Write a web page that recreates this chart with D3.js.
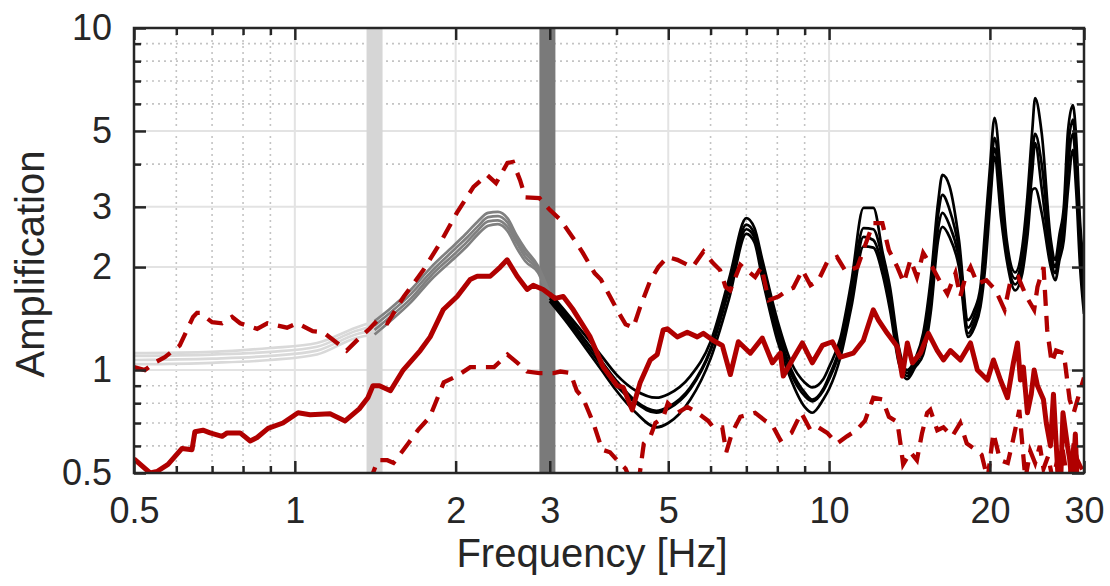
<!DOCTYPE html>
<html>
<head>
<meta charset="utf-8">
<script src="https://cdn.jsdelivr.net/npm/d3@7"></script>
<style>
  body { margin: 0; background: #fff; }
  text { font-family: "Liberation Sans", Arial, sans-serif; fill: #262626; }
</style>
</head>
<body>
<div id="chart"></div>
<script>
// axis ticks
var xTicks = [0.5, 1, 2, 3, 5, 10, 20, 30]
var yTicks = [0.5, 1, 2, 3, 5, 10]
var xGridMajor = [1, 2, 3, 5, 10, 20]
var xGridMinor = [0.6, 0.7, 0.8, 0.9, 4, 6, 7, 8, 9]
var yGridMajor = [1, 2, 3, 5]
var yGridMinor = [0.6, 0.7, 0.8, 0.9, 4, 6, 7, 8, 9]

// the two marked frequencies (vertical bands)
var bandFreqs = [1.41, 2.97]
// model curves change colour at these frequencies
var segEdges = [0.5, 1.41, 3.0, 30]

// model transfer functions, 4 curves on one frequency grid
var modelFreq = [0.5, 0.7, 0.9, 1.1, 1.3, 1.41, 1.5, 1.65, 1.8, 2.0, 2.1, 2.2, 2.3, 2.4, 2.5, 2.6, 2.7, 2.85, 3.0,
  3.25, 3.5, 3.75, 4.0, 4.35, 4.75, 5.0, 5.5, 6.0, 6.5, 7.0, 7.25, 7.5, 8.0, 8.5, 9.0, 9.3, 9.75, 10.0, 10.5,
  11.0, 11.6, 12.1, 12.6, 13.0, 13.5, 14.0, 14.5, 15.0, 15.5, 16.0, 16.3, 16.8, 17.5, 18.2, 18.7, 19.2, 19.6,
  20.0, 20.4, 21.0, 21.5, 22.3, 23.0, 23.5, 24.0, 24.3, 25.0, 26.0, 26.5, 27.0, 27.5, 28.0, 28.6, 29.0, 29.5, 30.0]
var modelA = [1.12, 1.13, 1.16, 1.20, 1.33, 1.39, 1.50, 1.72, 2.00, 2.34, 2.52, 2.72, 2.88, 2.90, 2.78, 2.48, 2.26, 2.02, 1.68,
  1.45, 1.26, 1.10, 0.97, 0.87, 0.83, 0.85, 0.96, 1.21, 1.85, 2.78, 2.60, 2.10, 1.40, 1.05, 0.92, 0.89, 0.94, 1.02, 1.24,
  1.80, 2.98, 2.98, 2.20, 1.75, 1.17, 1.00, 1.08, 1.28, 1.85, 3.10, 3.72, 3.45, 2.40, 1.40, 1.50, 1.75, 2.60,
  3.90, 5.46, 3.60, 2.40, 1.93, 2.30, 3.20, 5.00, 6.24, 4.93, 2.40, 2.10, 2.50, 3.00, 5.00, 5.95, 4.80, 2.70, 2.00]
var modelB = [1.10, 1.11, 1.13, 1.17, 1.30, 1.35, 1.46, 1.67, 1.94, 2.27, 2.44, 2.63, 2.80, 2.82, 2.70, 2.42, 2.20, 1.99, 1.65,
  1.42, 1.22, 1.06, 0.93, 0.81, 0.76, 0.78, 0.89, 1.15, 1.76, 2.66, 2.50, 2.02, 1.34, 1.00, 0.86, 0.82, 0.88, 0.96, 1.18,
  1.70, 2.60, 2.58, 2.10, 1.65, 1.13, 0.98, 1.06, 1.23, 1.72, 2.85, 3.25, 2.95, 2.25, 1.33, 1.44, 1.68, 2.40,
  3.50, 4.77, 3.30, 2.28, 1.85, 2.15, 2.90, 4.30, 4.90, 4.00, 2.25, 2.00, 2.35, 2.80, 4.40, 5.40, 4.20, 2.50, 1.85]
var modelC = [1.07, 1.08, 1.10, 1.14, 1.27, 1.31, 1.42, 1.62, 1.89, 2.20, 2.37, 2.56, 2.72, 2.74, 2.62, 2.36, 2.14, 1.96, 1.62,
  1.39, 1.19, 1.03, 0.90, 0.80, 0.75, 0.77, 0.88, 1.14, 1.72, 2.58, 2.44, 1.95, 1.28, 0.97, 0.84, 0.81, 0.87, 0.94, 1.15,
  1.62, 2.45, 2.40, 2.00, 1.58, 1.09, 0.96, 1.04, 1.17, 1.60, 2.60, 2.88, 2.65, 2.12, 1.28, 1.38, 1.60, 2.20,
  3.20, 4.45, 3.00, 2.18, 1.78, 2.02, 2.65, 3.80, 4.61, 3.40, 2.12, 1.92, 2.22, 2.60, 3.90, 4.90, 3.80, 2.30, 1.65]
var modelD = [1.04, 1.05, 1.07, 1.11, 1.24, 1.27, 1.38, 1.58, 1.84, 2.14, 2.30, 2.49, 2.64, 2.67, 2.55, 2.28, 2.08, 1.93, 1.59,
  1.36, 1.16, 1.00, 0.87, 0.75, 0.68, 0.70, 0.82, 1.08, 1.62, 2.50, 2.36, 1.85, 1.22, 0.93, 0.78, 0.75, 0.82, 0.88, 1.09,
  1.52, 2.30, 2.28, 1.90, 1.50, 1.05, 0.94, 1.02, 1.11, 1.48, 2.40, 2.62, 2.45, 2.00, 1.25, 1.33, 1.53, 2.00,
  3.00, 4.20, 2.75, 2.10, 1.71, 1.92, 2.45, 3.36, 3.40, 2.88, 2.00, 1.83, 2.10, 2.40, 3.36, 4.40, 3.36, 2.00, 1.46]

// observed amplification: median
var medianFreq = [0.5, 0.536, 0.552, 0.579, 0.615, 0.642, 0.65, 0.673, 0.694, 0.731, 0.747, 0.79, 0.825, 0.85, 0.891, 0.95,
  1.014, 1.068, 1.164, 1.242, 1.32, 1.37, 1.40, 1.44, 1.51, 1.595, 1.717, 1.792, 1.895, 2.013, 2.129, 2.194, 2.321,
  2.424, 2.497, 2.607, 2.722, 2.794, 2.916, 3.07, 3.18, 3.32, 3.571, 3.777, 4.012, 4.117, 4.281, 4.431, 4.626, 4.768,
  4.892, 4.978, 5.197, 5.426, 5.666, 5.815, 6.071, 6.311, 6.534, 6.763, 7.122, 7.499, 7.83, 8.104, 8.21, 8.535, 8.91,
  9.304, 9.714, 10.14, 10.5, 11.1, 11.59, 12.1, 12.37, 12.85, 13.42, 13.71, 14.01, 14.32, 14.82, 15.34, 15.94, 16.37,
  16.87, 17.61, 18.39, 18.95, 19.79, 20.31, 20.93, 21.57, 22.13, 22.52, 22.81, 23.1, 23.51, 23.9, 24.2, 24.55, 25.19,
  25.5, 25.96, 26.3, 26.52, 26.8, 27.1, 27.4, 27.94, 28.2, 28.55, 28.9, 29.2, 29.55, 30]
var medianAmp = [0.55, 0.50, 0.505, 0.53, 0.59, 0.585, 0.66, 0.667, 0.655, 0.64, 0.655, 0.655, 0.62, 0.635, 0.675, 0.70,
  0.75, 0.74, 0.745, 0.71, 0.77, 0.83, 0.90, 0.90, 0.87, 1.0, 1.14, 1.25, 1.50, 1.64, 1.84, 1.88, 1.88,
  2.0, 2.1, 1.88, 1.72, 1.77, 1.72, 1.62, 1.64, 1.50, 1.25, 1.02, 0.90, 0.89, 0.765, 0.92, 1.07, 1.11,
  1.31, 1.32, 1.25, 1.29, 1.25, 1.28, 1.22, 1.18, 0.97, 1.21, 1.12, 1.24, 1.05, 1.12, 0.96, 1.07, 1.20,
  1.05, 1.18, 1.21, 1.09, 1.12, 1.22, 1.50, 1.40, 1.28, 1.17, 0.96, 1.20, 1.05, 1.12, 1.28, 1.14, 1.07,
  1.14, 1.07, 1.20, 1.00, 0.935, 1.07, 0.935, 0.83, 1.05, 1.20, 0.935, 1.02, 0.75, 0.85, 1.00, 0.90, 0.82,
  0.70, 0.60, 0.85, 0.667, 0.50, 0.45, 0.75, 0.60, 0.55, 0.45, 0.65, 0.42, 0.40, 0.40]

// upper bound (dashed)
var upperFreq = [0.5, 0.524, 0.546, 0.571, 0.609, 0.645, 0.656, 0.664, 0.70, 0.731, 0.763, 0.79, 0.85, 0.888, 0.926, 0.967,
  1.01, 1.08, 1.13, 1.20, 1.25, 1.32, 1.38, 1.43, 1.49, 1.60, 1.74, 1.87, 2.01, 2.16, 2.29, 2.38, 2.50, 2.56, 2.64,
  2.70, 2.87, 3.0, 3.14, 3.22, 3.37, 3.46, 3.64, 3.74, 3.89, 4.01, 4.16, 4.30, 4.43, 4.63, 4.79, 4.98, 5.20, 5.43,
  5.55, 5.82, 6.07, 6.25, 6.40, 6.53, 6.82, 7.27, 7.47, 7.71, 8.04, 8.35, 8.57, 8.91, 9.23, 9.55, 9.92, 10.35,
  10.75, 11.30, 11.72, 12.10, 12.58, 12.94, 13.42, 13.8, 14.2, 14.6, 15.0, 15.6, 16.2, 16.65, 17.24, 17.6, 18.0,
  18.4, 18.95, 19.7, 20.5, 21.3, 21.8, 22.6, 23.4, 24.2, 24.55, 25.2, 25.6, 26.1, 26.6, 27.5, 28.2, 28.7, 29.5, 30]
var upperAmp = [1.02, 1.00, 1.05, 1.09, 1.18, 1.43, 1.47, 1.47, 1.38, 1.37, 1.43, 1.37, 1.32, 1.37, 1.35, 1.33,
  1.37, 1.30, 1.29, 1.20, 1.14, 1.24, 1.32, 1.40, 1.37, 1.64, 1.96, 2.35, 2.88, 3.43, 3.72, 3.52, 4.03, 4.06, 3.59,
  3.20, 3.18, 2.94, 2.75, 2.60, 2.35, 2.20, 1.92, 1.84, 1.64, 1.50, 1.36, 1.33, 1.53, 1.83, 2.00, 2.14, 2.10, 2.03,
  2.00, 2.22, 2.05, 1.96, 1.75, 1.71, 2.03, 1.87, 2.00, 1.60, 1.64, 1.71, 1.74, 1.96, 1.77, 1.83, 2.07, 2.14,
  1.94, 2.00, 2.35, 2.69, 2.69, 2.24, 2.00, 1.80, 2.10, 1.87, 2.20, 2.00, 1.79, 1.67, 1.92, 1.64, 1.87,
  2.00, 1.79, 1.83, 1.71, 1.50, 1.79, 1.87, 1.64, 1.50, 1.75, 2.00, 1.31, 1.05, 1.14, 1.12, 0.82, 0.75, 0.87, 0.95]

// lower bound (dashed)
var lowerFreq = [1.38, 1.43, 1.49, 1.53, 1.63, 1.70, 1.79, 1.90, 2.01, 2.13, 2.25, 2.36, 2.50, 2.61, 2.72, 2.87, 3.05,
  3.14, 3.28, 3.37, 3.46, 3.62, 3.76, 3.89, 4.01, 4.16, 4.28, 4.40, 4.50, 4.63, 4.73, 4.89, 4.99, 5.2, 5.43, 5.67,
  5.94, 6.07, 6.31, 6.42, 6.58, 6.82, 7.27, 7.6, 7.83, 8.10, 8.5, 8.87, 9.23, 9.55, 9.92, 10.35, 10.8, 11.25, 11.67,
  12.10, 12.58, 12.94, 13.42, 13.6, 13.76, 14.2, 14.6, 14.93, 15.26, 15.47, 15.94, 16.37, 17.0, 17.6, 18.1, 18.8,
  19.3, 19.8, 20.3, 20.9, 21.6, 22.1, 22.7, 23.3, 23.8, 24.3, 24.8, 25.2, 25.7, 26.2, 26.8, 27.3, 27.8, 28.2, 28.7, 29.1, 29.5, 30]
var lowerAmp = [0.47, 0.545, 0.545, 0.535, 0.61, 0.667, 0.73, 0.92, 0.96, 1.02, 1.02, 1.02, 1.11, 1.05, 0.99, 0.98, 0.98,
  0.99, 0.98, 0.87, 0.83, 0.70, 0.585, 0.575, 0.545, 0.515, 0.46, 0.47, 0.61, 0.64, 0.70, 0.725, 0.80, 0.75, 0.78, 0.75,
  0.71, 0.68, 0.68, 0.575, 0.655, 0.73, 0.75, 0.71, 0.69, 0.625, 0.655, 0.75, 0.667, 0.68, 0.655, 0.61, 0.64, 0.667, 0.71,
  0.83, 0.82, 0.73, 0.705, 0.61, 0.53, 0.575, 0.545, 0.655, 0.75, 0.765, 0.667, 0.68, 0.64, 0.70, 0.61, 0.585,
  0.565, 0.48, 0.655, 0.545, 0.535, 0.625, 0.765, 0.48, 0.58, 0.535, 0.60, 0.515, 0.56, 0.48, 0.55, 0.60, 0.50, 0.48, 0.61, 0.55, 0.525, 0.50]

var figw = 1110, figh = 586
// plot box in pixels (window.top is reserved, so no "top" here)
var plotL = 134, plotR = 1084, plotT = 28, plotB = 473
var red = "#b00000"

var svg = d3.select("#chart").append("svg")
  .attr("width", figw)
  .attr("height", figh)

var x = d3.scaleLog().domain([0.5, 30]).range([plotL, plotR])
var y = d3.scaleLog().domain([0.5, 10]).range([plotB, plotT])

svg.append("clipPath").attr("id", "clip")
  .append("rect")
    .attr("x", plotL).attr("y", plotT)
    .attr("width", plotR - plotL).attr("height", plotB - plotT)

// grid
var grid = svg.append("g")
grid.selectAll(".xmin").data(xGridMinor).enter().append("line")
  .attr("x1", d => x(d)).attr("x2", d => x(d)).attr("y1", plotT).attr("y2", plotB)
  .attr("stroke", "#c4c4c4").attr("stroke-width", 1.6).attr("stroke-dasharray", "2,4")
grid.selectAll(".ymin").data(yGridMinor).enter().append("line")
  .attr("y1", d => y(d)).attr("y2", d => y(d)).attr("x1", plotL).attr("x2", plotR)
  .attr("stroke", "#c4c4c4").attr("stroke-width", 1.6).attr("stroke-dasharray", "2,4")
grid.selectAll(".xmaj").data(xGridMajor).enter().append("line")
  .attr("x1", d => x(d)).attr("x2", d => x(d)).attr("y1", plotT).attr("y2", plotB)
  .attr("stroke", "#e3e3e3").attr("stroke-width", 2)
grid.selectAll(".ymaj").data(yGridMajor).enter().append("line")
  .attr("y1", d => y(d)).attr("y2", d => y(d)).attr("x1", plotL).attr("x2", plotR)
  .attr("stroke", "#e3e3e3").attr("stroke-width", 2)

// bands
var bandColors = ["#d6d6d6", "#7a7a7a"]
svg.append("g").selectAll("line").data(bandFreqs).enter().append("line")
  .attr("x1", d => x(d)).attr("x2", d => x(d)).attr("y1", plotT).attr("y2", plotB)
  .attr("stroke", (d, i) => bandColors[i]).attr("stroke-width", 16)

var plot = svg.append("g").attr("clip-path", "url(#clip)")

// model curves
var segColors = ["#d9d9d9", "#808080", "#000000"]
var models = [modelA, modelB, modelC, modelD]
var mline = d3.line().x(d => x(d[0])).y(d => y(d[1])).curve(d3.curveMonotoneX)
segColors.forEach(function(col, s) {
  models.forEach(function(amp) {
    var pts = []
    modelFreq.forEach(function(f, i) {
      if (f >= segEdges[s] && f <= segEdges[s + 1]) pts.push([f, amp[i]])
    })
    plot.append("path").datum(pts)
      .attr("d", mline)
      .attr("fill", "none").attr("stroke", col).attr("stroke-width", 2.7)
      .attr("stroke-linejoin", "round")
  })
})

// observations
var rline = d3.line().x(d => x(d[0])).y(d => y(d[1]))
function zip(a, b) { return a.map((v, i) => [v, b[i]]) }

plot.append("path").datum(zip(upperFreq, upperAmp))
  .attr("d", rline).attr("fill", "none").attr("stroke", red)
  .attr("stroke-width", 4.3).attr("stroke-dasharray", "16,10")
plot.append("path").datum(zip(lowerFreq, lowerAmp))
  .attr("d", rline).attr("fill", "none").attr("stroke", red)
  .attr("stroke-width", 4.3).attr("stroke-dasharray", "16,10")
plot.append("path").datum(zip(medianFreq, medianAmp))
  .attr("d", rline).attr("fill", "none").attr("stroke", red)
  .attr("stroke-width", 5).attr("stroke-linejoin", "round")

// axes (ticks inside, on all four sides)
function style(g) {
  g.select(".domain").remove()
  g.selectAll(".tick line").attr("stroke", "#262626").attr("stroke-width", 2.5)
  g.selectAll("text").attr("font-size", 36).attr("fill", "#262626")
    .attr("font-family", '"Liberation Sans", Arial, sans-serif')
}
var fmt = d3.format("")
svg.append("g").attr("transform", "translate(0," + plotB + ")")
  .call(d3.axisBottom(x).tickValues(xTicks).tickFormat(fmt).tickSizeInner(-12).tickSizeOuter(0).tickPadding(24))
  .call(style)
svg.append("g").attr("transform", "translate(0," + plotB + ")")
  .call(d3.axisBottom(x).tickValues(xGridMinor).tickFormat("").tickSizeInner(-7).tickSizeOuter(0))
  .call(style)
svg.append("g").attr("transform", "translate(0," + plotT + ")")
  .call(d3.axisTop(x).tickValues(xTicks).tickFormat("").tickSizeInner(-12).tickSizeOuter(0))
  .call(style)
svg.append("g").attr("transform", "translate(0," + plotT + ")")
  .call(d3.axisTop(x).tickValues(xGridMinor).tickFormat("").tickSizeInner(-7).tickSizeOuter(0))
  .call(style)
svg.append("g").attr("transform", "translate(" + plotL + ",0)")
  .call(d3.axisLeft(y).tickValues(yTicks).tickFormat(fmt).tickSizeInner(-12).tickSizeOuter(0).tickPadding(22))
  .call(style)
svg.append("g").attr("transform", "translate(" + plotL + ",0)")
  .call(d3.axisLeft(y).tickValues(yGridMinor).tickFormat("").tickSizeInner(-7).tickSizeOuter(0))
  .call(style)
svg.append("g").attr("transform", "translate(" + plotR + ",0)")
  .call(d3.axisRight(y).tickValues(yTicks).tickFormat("").tickSizeInner(-12).tickSizeOuter(0))
  .call(style)
svg.append("g").attr("transform", "translate(" + plotR + ",0)")
  .call(d3.axisRight(y).tickValues(yGridMinor).tickFormat("").tickSizeInner(-7).tickSizeOuter(0))
  .call(style)

// box
svg.append("rect")
  .attr("x", plotL).attr("y", plotT).attr("width", plotR - plotL).attr("height", plotB - plotT)
  .attr("fill", "none").attr("stroke", "#262626").attr("stroke-width", 2.5)

// axis titles
svg.append("text")
  .attr("x", 592).attr("y", 567)
  .attr("text-anchor", "middle").attr("font-size", 40)
  .text("Frequency [Hz]")
svg.append("text")
  .attr("transform", "translate(44,264) rotate(-90)")
  .attr("text-anchor", "middle").attr("font-size", 40)
  .text("Amplification")
</script>
</body>
</html>
